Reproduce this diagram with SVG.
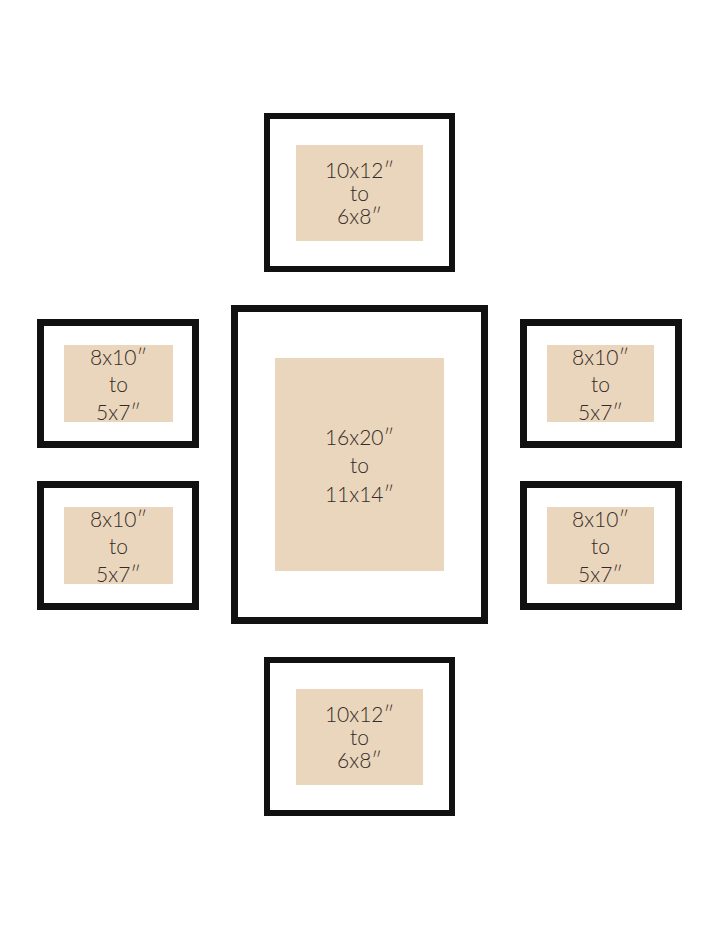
<svg xmlns="http://www.w3.org/2000/svg" width="720" height="928" viewBox="0 0 720 928">
<style>
.frame{fill:#fff;stroke:#111;}
.mat{fill:#EAD5BD;}
.t{font-family:Lato,"DejaVu Sans",sans-serif;font-weight:300;font-size:21px;fill:#332c27;text-anchor:middle;}
</style>
<rect width="720" height="928" fill="#fff"/>
<g id="top">
<rect class="frame" x="267" y="116" width="185" height="153" stroke-width="6"/>
<rect class="mat" x="296" y="145" width="127" height="96"/>
<text class="t" x="359.5" y="178">10x12″</text>
<text class="t" x="359.5" y="201">to</text>
<text class="t" x="359.5" y="224">6x8″</text>
</g>
<g id="left-top">
<rect class="frame" x="40.5" y="322.5" width="155" height="122" stroke-width="7"/>
<rect class="mat" x="64" y="345" width="109" height="77"/>
<text class="t" x="118.5" y="365">8x10″</text>
<text class="t" x="118.5" y="392">to</text>
<text class="t" x="118.5" y="420">5x7″</text>
</g>
<g id="left-bottom">
<rect class="frame" x="40.5" y="484.5" width="155" height="122" stroke-width="7"/>
<rect class="mat" x="64" y="507" width="109" height="77"/>
<text class="t" x="118.5" y="527">8x10″</text>
<text class="t" x="118.5" y="554">to</text>
<text class="t" x="118.5" y="582">5x7″</text>
</g>
<g id="center">
<rect class="frame" x="234.5" y="308.5" width="250" height="312" stroke-width="7"/>
<rect class="mat" x="275" y="358" width="169" height="213"/>
<text class="t" x="359.5" y="445">16x20″</text>
<text class="t" x="359.5" y="473">to</text>
<text class="t" x="359.5" y="502">11x14″</text>
</g>
<g id="right-top">
<rect class="frame" x="523.5" y="322.5" width="155" height="122" stroke-width="7"/>
<rect class="mat" x="547" y="345" width="107" height="77"/>
<text class="t" x="600.5" y="365">8x10″</text>
<text class="t" x="600.5" y="392">to</text>
<text class="t" x="600.5" y="420">5x7″</text>
</g>
<g id="right-bottom">
<rect class="frame" x="523.5" y="484.5" width="155" height="122" stroke-width="7"/>
<rect class="mat" x="547" y="507" width="107" height="77"/>
<text class="t" x="600.5" y="527">8x10″</text>
<text class="t" x="600.5" y="554">to</text>
<text class="t" x="600.5" y="582">5x7″</text>
</g>
<g id="bottom">
<rect class="frame" x="267" y="660" width="185" height="153" stroke-width="6"/>
<rect class="mat" x="296" y="689" width="127" height="96"/>
<text class="t" x="359.5" y="722">10x12″</text>
<text class="t" x="359.5" y="745">to</text>
<text class="t" x="359.5" y="768">6x8″</text>
</g>
<g id="connectors"></g>
</svg>
